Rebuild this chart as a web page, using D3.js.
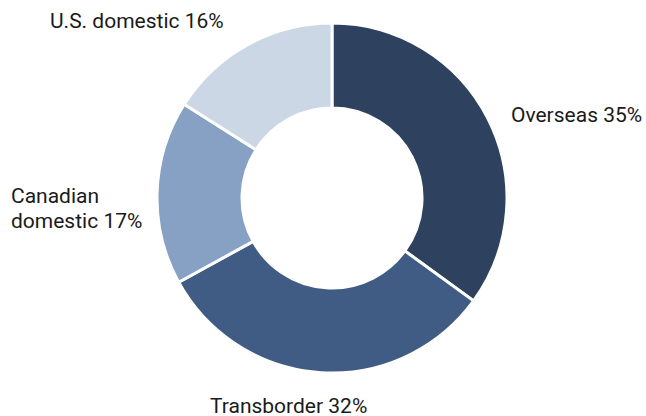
<!DOCTYPE html>
<html>
<head>
<meta charset="utf-8">
<script src="https://cdn.jsdelivr.net/npm/d3@7"></script>
<style>
  body { margin: 0; background: #fff; }
  text { font-family: Roboto, "Noto Sans", sans-serif; font-size: 21px; fill: #1a1a1a; }
</style>
</head>
<body>
<div id="chart"></div>
<script>
// data, clockwise from 12 o'clock
var categories = ["Overseas", "Transborder", "Canadian domestic", "U.S. domestic"];
var shares = [35, 32, 17, 16];
var colors = ["#2e4260", "#405c85", "#87a1c4", "#cbd7e5"];

var width = 646, height = 416;
var cx = 332, cy = 198;
var outerR = 175, innerR = 90;

var svg = d3.select("#chart").append("svg")
    .attr("width", width)
    .attr("height", height);

var g = svg.append("g")
    .attr("transform", "translate(" + cx + "," + cy + ")");

var pie = d3.pie()
    .sort(null)
    .value(function(d) { return d; });

var arc = d3.arc()
    .innerRadius(innerR)
    .outerRadius(outerR);

var arcs = pie(shares);

g.selectAll(".slice")
    .data(arcs)
    .enter().append("path")
    .attr("class", "slice")
    .attr("d", arc)
    .attr("fill", function(d, i) { return colors[i]; })
    .attr("stroke", "#fff")
    .attr("stroke-width", 3);

// label placement (relative to chart centre), one per slice
var labelLayout = [
    { x: 179, y: -76 },
    { x: -122, y: 215 },
    { x: -321, y: [5, 30] },
    { x: -282, y: -170 }
];

arcs.forEach(function(d, i) {
    var L = labelLayout[i];
    var t = g.append("text")
        .attr("x", L.x)
        .attr("text-anchor", "start");
    if (Array.isArray(L.y)) {
        // two lines
        var words = categories[i].split(" ");
        t.append("tspan").attr("x", L.x).attr("y", L.y[0]).text(words[0]);
        t.append("tspan").attr("x", L.x).attr("y", L.y[1]).text(words.slice(1).join(" ") + " " + shares[i] + "%");
    } else {
        t.attr("y", L.y).text(categories[i] + " " + shares[i] + "%");
    }
});
</script>
</body>
</html>
